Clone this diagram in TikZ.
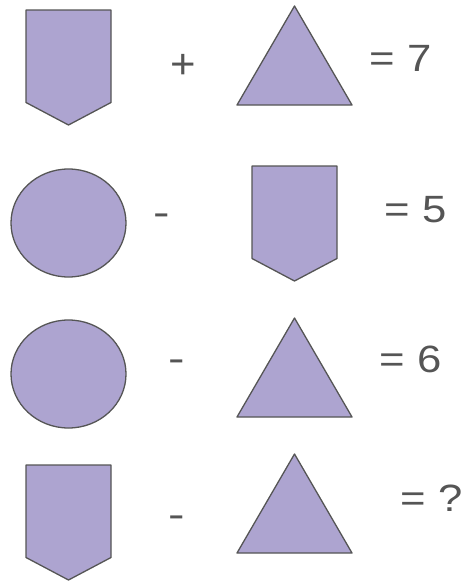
\documentclass[tikz,border=0pt]{standalone}
\usepackage{fontspec}
\setmainfont{Liberation Sans}
\definecolor{shapefill}{HTML}{ADA4D0}
\definecolor{inkgray}{HTML}{555555}

\tikzset{
  fig/.style={draw=inkgray, fill=shapefill, line width=1.3pt, line join=round},
  sign/.style={text=inkgray, inner sep=0pt, anchor=base west, font=\fontsize{38}{44}\selectfont},
  op/.style={sign, anchor=base},
  shield/.pic={\draw[fig] (-42.5,0) -- (42.5,0) -- (42.5,92.5) -- (0,115) -- (-42.5,92.5) -- cycle;},
  tri/.pic={\draw[fig] (0,0) -- (57.5,99) -- (-57.5,99) -- cycle;}
}

\begin{document}
\begin{tikzpicture}[x=1pt, y=-1pt]
\useasboundingbox (0,0) rectangle (468,581);

% first line: shield + triangle = 7
\pic at (68.5,10) {shield};
\node[op] (plus1) at (183,78.8) {\scalebox{1.15}[1.1]{+}};
\pic at (294.5,6) {tri};
\node[sign] (eq1) at (369.4,71.7) {\scalebox{1.15}[1]{= 7}};

% second line: circle - shield = 5
\draw[fig] (68.5,223) ellipse [x radius=57.5, y radius=54];
\node[op] (minus2) at (162,225.5) {\scalebox{1.3}[1]{-}};
\pic at (294.5,166) {shield};
\node[sign] (eq2) at (384.4,222.7) {\scalebox{1.15}[1]{= 5}};

% third line: circle - triangle = 6
\draw[fig] (68.5,374) ellipse [x radius=57.5, y radius=54];
\node[op] (minus3) at (177,371) {\scalebox{1.3}[1]{-}};
\pic at (294.5,318) {tri};
\node[sign] (eq3) at (379.4,372.7) {\scalebox{1.15}[1]{= 6}};

% last line: shield - triangle = ?
\pic at (68.5,465) {shield};
\node[op] (minus4) at (177,527.5) {\scalebox{1.3}[1]{-}};
\pic at (294.5,454) {tri};
\node[sign] (eq4) at (400.7,511.7) {\scalebox{1.15}[1]{= ?}};

\end{tikzpicture}
\end{document}
